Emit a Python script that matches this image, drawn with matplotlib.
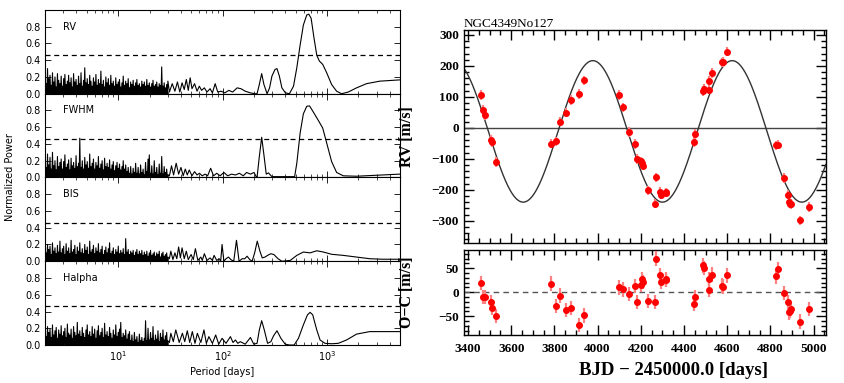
import matplotlib
matplotlib.use("Agg")
import matplotlib.pyplot as plt
import numpy as np
from matplotlib.ticker import MultipleLocator, NullFormatter, LogLocator


# ---------------------------------------------------------------- periodograms
# short periods (2..30 d) are a dense forest of spikes: heights listed in order
FOREST_PERIOD_RANGE = (2.0, 30.0)
FOREST_FLOOR = 0.0
FAP_LEVEL = 0.46

rv_forest = [
    0.35, 0.12, 0.30, 0.18, 0.22, 0.10, 0.25, 0.14, 0.20, 0.08,
    0.24, 0.16, 0.12, 0.21, 0.09, 0.18, 0.23, 0.11, 0.15, 0.22,
    0.13, 0.19, 0.08, 0.24, 0.14, 0.17, 0.10, 0.21, 0.12, 0.25,
    0.09, 0.16, 0.31, 0.13, 0.18, 0.11, 0.22, 0.15, 0.09, 0.19,
    0.14, 0.23, 0.10, 0.17, 0.12, 0.27, 0.11, 0.16, 0.08, 0.20,
    0.13, 0.18, 0.10, 0.22, 0.12, 0.15, 0.09, 0.19, 0.11, 0.14,
    0.17, 0.08, 0.13, 0.21, 0.10, 0.15, 0.12, 0.18, 0.07, 0.14,
    0.11, 0.16, 0.09, 0.13, 0.17, 0.10, 0.12, 0.08, 0.15, 0.11,
    0.14, 0.09, 0.17, 0.10, 0.13, 0.08, 0.12, 0.16, 0.09, 0.11,
    0.14, 0.08, 0.12, 0.10, 0.32, 0.09, 0.13, 0.07, 0.11, 0.15,
]
rv_period = [31, 33, 35, 37, 39, 41, 43, 45, 47, 49, 51, 54, 57, 60, 63, 67, 71, 76, 80, 85,
             90, 97, 105, 115, 125, 138, 150, 165, 185, 205,
             214, 225, 237, 249, 267, 282, 297, 318, 332, 350, 370, 400, 437,
             478, 514, 553, 594, 640, 670, 705, 752, 798, 845, 910, 993, 1107, 1236,
             1380, 1596, 1918, 2388, 3200, 4955]
rv_power = [0.02, 0.12, 0.03, 0.14, 0.02, 0.13, 0.05, 0.17, 0.04, 0.19, 0.06, 0.12, 0.03, 0.09,
            0.04, 0.07, 0.02, 0.06, 0.01, 0.12, 0.02, 0.03, 0.01, 0.04, 0.02, 0.07, 0.06, 0.03,
            0.01, 0.0,
            0.0, 0.11, 0.24, 0.11, 0.0, 0.07, 0.21, 0.29, 0.30, 0.21, 0.07, 0.01, 0.0,
            0.09, 0.31, 0.58, 0.82, 0.94, 0.95, 0.90, 0.66, 0.46, 0.39, 0.35, 0.25, 0.11, 0.03,
            0.0, 0.02, 0.07, 0.12, 0.15, 0.165]

fwhm_forest = [
    0.36, 0.12, 0.28, 0.15, 0.24, 0.10, 0.30, 0.14, 0.20, 0.09,
    0.25, 0.13, 0.18, 0.22, 0.10, 0.19, 0.27, 0.12, 0.16, 0.21,
    0.09, 0.23, 0.14, 0.18, 0.11, 0.26, 0.13, 0.17, 0.47, 0.12,
    0.20, 0.10, 0.24, 0.15, 0.19, 0.11, 0.28, 0.13, 0.17, 0.22,
    0.10, 0.18, 0.14, 0.25, 0.11, 0.16, 0.20, 0.09, 0.23, 0.13,
    0.17, 0.12, 0.21, 0.10, 0.15, 0.19, 0.08, 0.14, 0.18, 0.11,
    0.16, 0.09, 0.13, 0.20, 0.10, 0.15, 0.07, 0.12, 0.05, 0.13,
    0.04, 0.11, 0.06, 0.17, 0.05, 0.12, 0.04, 0.15, 0.06, 0.10,
    0.03, 0.18, 0.07, 0.22, 0.27, 0.05, 0.14, 0.04, 0.20, 0.06,
    0.12, 0.03, 0.16, 0.05, 0.25, 0.04, 0.13, 0.06, 0.10, 0.03,
]
fwhm_period = [31, 32.5, 34, 36, 38, 40, 42, 44, 46, 48, 51, 54, 57, 60, 64, 68, 72, 77, 82, 88,
               95, 103, 112, 122, 133, 145, 158, 170, 185, 200, 210,
               214, 225, 237, 249, 262, 275, 297, 332, 400, 490,
               514, 553, 594, 640, 680, 741, 827, 910, 993, 1107, 1236, 1430, 1918, 3438, 4955]
fwhm_power = [0.02, 0.14, 0.03, 0.17, 0.04, 0.12, 0.02, 0.10, 0.03, 0.09, 0.02, 0.07, 0.03,
              0.05, 0.02, 0.04, 0.02, 0.11, 0.02, 0.05, 0.02, 0.06, 0.02, 0.04, 0.03, 0.05,
              0.02, 0.06, 0.04, 0.06, 0.01,
              0.0, 0.25, 0.48, 0.27, 0.04, 0.055, 0.01, 0.01, 0.01, 0.01,
              0.17, 0.53, 0.76, 0.85, 0.855, 0.78, 0.68, 0.59, 0.41, 0.19, 0.06, 0.02, 0.015,
              0.03, 0.04]

bis_forest = [
    0.27, 0.10, 0.20, 0.14, 0.18, 0.08, 0.22, 0.12, 0.16, 0.09,
    0.19, 0.11, 0.24, 0.10, 0.15, 0.18, 0.08, 0.21, 0.12, 0.16,
    0.09, 0.25, 0.11, 0.14, 0.19, 0.08, 0.17, 0.12, 0.22, 0.10,
    0.15, 0.09, 0.20, 0.13, 0.17, 0.08, 0.24, 0.11, 0.14, 0.19,
    0.09, 0.16, 0.12, 0.21, 0.10, 0.14, 0.18, 0.08, 0.13, 0.17,
    0.10, 0.15, 0.22, 0.09, 0.12, 0.16, 0.08, 0.14, 0.11, 0.18,
    0.09, 0.13, 0.10, 0.15, 0.08, 0.27, 0.11, 0.14, 0.08, 0.12,
    0.10, 0.13, 0.07, 0.11, 0.14, 0.08, 0.12, 0.09, 0.13, 0.07,
    0.11, 0.08, 0.12, 0.06, 0.10, 0.13, 0.07, 0.09, 0.11, 0.06,
    0.10, 0.08, 0.12, 0.05, 0.09, 0.11, 0.06, 0.08, 0.10, 0.05,
]
bis_period = [31, 32, 33.5, 35, 36.5, 38, 39.5, 41, 43, 45, 47, 50, 52.5, 55, 58, 62, 64, 67,
              71, 76, 80, 83, 88, 93, 96, 99, 103, 108, 114, 120, 128, 136, 144, 154, 163,
              172, 182, 192, 203, 215, 228, 240, 255, 270, 290, 310, 340, 370, 445,
              514, 594, 640, 689, 798, 923, 1107, 1432, 1918, 2568, 3438, 4955]
bis_power = [0.03, 0.12, 0.02, 0.10, 0.03, 0.17, 0.04, 0.16, 0.03, 0.12, 0.02, 0.08, 0.02,
             0.15, 0.01, 0.05, 0.01, 0.09, 0.01, 0.04, 0.01, 0.07, 0.01, 0.03, 0.0, 0.20,
             0.0, 0.03, 0.05, 0.02, 0.0, 0.25, 0.0, 0.03, 0.03, 0.06, 0.02, 0.0, 0.10, 0.24,
             0.12, 0.04, 0.05, 0.07, 0.09, 0.08, 0.03, 0.0, 0.01,
             0.07, 0.11, 0.105, 0.10, 0.125, 0.11, 0.083, 0.07, 0.05, 0.03, 0.024, 0.024]

halpha_forest = [
    0.40, 0.10, 0.22, 0.15, 0.19, 0.09, 0.24, 0.12, 0.17, 0.21,
    0.08, 0.18, 0.13, 0.23, 0.11, 0.16, 0.20, 0.09, 0.25, 0.14,
    0.12, 0.19, 0.08, 0.22, 0.15, 0.11, 0.27, 0.13, 0.17, 0.10,
    0.21, 0.14, 0.09, 0.18, 0.24, 0.12, 0.16, 0.10, 0.22, 0.13,
    0.19, 0.08, 0.17, 0.23, 0.11, 0.15, 0.20, 0.09, 0.26, 0.12,
    0.16, 0.10, 0.21, 0.14, 0.08, 0.18, 0.12, 0.24, 0.10, 0.15,
    0.19, 0.27, 0.09, 0.14, 0.11, 0.18, 0.07, 0.13, 0.16, 0.05,
    0.12, 0.04, 0.15, 0.06, 0.10, 0.03, 0.13, 0.05, 0.09, 0.04,
    0.08, 0.29, 0.05, 0.20, 0.06, 0.15, 0.08, 0.22, 0.05, 0.12,
    0.07, 0.17, 0.04, 0.14, 0.09, 0.18, 0.06, 0.11, 0.15, 0.05,
]
halpha_period = [31, 32, 33.8, 35.7, 38.5, 41.3, 43.5, 46, 48.5, 51.4, 54.5, 57.4, 62, 66.4,
                 70, 74, 80, 86, 92, 99, 108, 119, 126, 133, 140, 148, 165, 185, 199, 214,
                 225, 237, 251, 270, 290, 308, 332, 362, 398, 437, 485,
                 533, 594, 650, 689, 730, 798, 858, 957, 1107, 1282, 1539, 1918, 2568, 3438,
                 4955]
halpha_power = [0.03, 0.14, 0.04, 0.18, 0.03, 0.14, 0.04, 0.17, 0.03, 0.16, 0.02, 0.14, 0.03,
                0.18, 0.02, 0.10, 0.02, 0.12, 0.01, 0.08, 0.02, 0.10, 0.03, 0.06, 0.02, 0.04,
                0.01, 0.09, 0.01, 0.02,
                0.18, 0.29, 0.18, 0.02, 0.04, 0.11, 0.17, 0.08, 0.01, 0.0, 0.0,
                0.08, 0.24, 0.36, 0.39, 0.36, 0.18, 0.06, 0.02, 0.015, 0.02, 0.06, 0.13, 0.16,
                0.16, 0.16]

panel_names = ["RV", "FWHM", "BIS", "Halpha"]

# ---------------------------------------------------------------- RV time series
bjd = [3459, 3470, 3479, 3507, 3509, 3528, 3782, 3807, 3827, 3853, 3875, 3912, 3938,
       4099, 4117, 4147, 4173, 4181, 4202, 4206, 4208, 4233, 4267, 4272, 4291, 4295,
       4315, 4318, 4447, 4451, 4488, 4493, 4515, 4518, 4529, 4577, 4580, 4601, 4827,
       4835, 4863, 4883, 4885, 4892, 4897, 4935, 4977]
rv = [106, 58, 41, -39, -47, -110, -51, -44, 20, 49, 90, 109, 153,
      106, 66, -13, -52, -101, -108, -112, -122, -202, -245, -160, -206, -216,
      -209, -208, -46, -20, 119, 125, 123, 152, 177, 212, 213, 246, -57,
      -54, -162, -216, -240, -245, -246, -299, -256]
o_minus_c = [19, -10, -10, -21, -32, -49, 18, -28, -7, -37, -33, -68, -48,
             10, 6, -3, 13, -20, 15, 27, 22, -18, -20, 70, 35, 22,
             27, 26, -25, -10, 56, 51, 5, 28, 37, 14, 12, 35, 33,
             49, -1, -20, -42, -39, -35, -61, -35]
RV_ERR = 15

# fitted orbit: period, semi-amplitude, time of maximum, offset
ORBIT_P = 645.0
ORBIT_K = 228.5
ORBIT_TMAX = 3978.0
ORBIT_V0 = -11.5

SERIF = "Liberation Serif"
TICK_FONT = dict(family=SERIF, weight="bold", size=9.5)


def periodogram_curve(forest, period, power):
    peaks = np.geomspace(*FOREST_PERIOD_RANGE, len(forest))
    troughs = np.sqrt(peaks[:-1] * peaks[1:])
    x = np.empty(2 * len(peaks) - 1)
    y = np.empty_like(x)
    x[0::2], x[1::2] = peaks, troughs
    y[0::2], y[1::2] = forest, FOREST_FLOOR
    return np.concatenate([x, period]), np.concatenate([y, power])


def draw_periodograms(fig):
    data = [(rv_forest, rv_period, rv_power),
            (fwhm_forest, fwhm_period, fwhm_power),
            (bis_forest, bis_period, bis_power),
            (halpha_forest, halpha_period, halpha_power)]
    left, width = 0.0533, 0.4201
    bottom, height = 0.0992, 0.2187
    axes = []
    for k, (name, (forest, period, power)) in enumerate(zip(panel_names, data)):
        ax = fig.add_axes([left, bottom + (3 - k) * height, width, height])
        x, y = periodogram_curve(forest, period, power)
        ax.plot(x, y, color="black", lw=0.8)
        ax.axhline(FAP_LEVEL, color="black", lw=0.9, ls=(0, (4, 3)))
        ax.set_xscale("log")
        ax.set_xlim(2, 5000)
        ax.set_ylim(0, 1.0)
        ax.set_yticks([0.0, 0.2, 0.4, 0.6, 0.8])
        ax.yaxis.set_major_formatter(plt.FormatStrFormatter("%.1f"))
        ax.xaxis.set_major_locator(LogLocator(base=10, numticks=10))
        ax.xaxis.set_minor_locator(LogLocator(base=10, subs=np.arange(2, 10), numticks=10))
        ax.tick_params(which="both", direction="in", top=True, right=True,
                       labelsize=7, colors="black", pad=3)
        ax.tick_params(which="major", length=4, width=0.6)
        ax.tick_params(which="minor", length=2, width=0.5)
        for s in ax.spines.values():
            s.set_linewidth(0.8)
        ax.text(0.05, 0.8, name, transform=ax.transAxes, fontsize=7, va="center")
        if k < 3:
            ax.xaxis.set_major_formatter(NullFormatter())
        axes.append(ax)
    axes[-1].set_xlabel("Period [days]", fontsize=7, labelpad=3)
    fig.text(0.012, 0.5366, "Normalized Power", rotation=90, fontsize=7,
             ha="center", va="center")
    return axes


def style_root(ax, xmajor, xminor, ymajor, yminor, xlabels=True):
    ax.xaxis.set_major_locator(MultipleLocator(xmajor))
    ax.xaxis.set_minor_locator(MultipleLocator(xminor))
    ax.yaxis.set_major_locator(MultipleLocator(ymajor))
    ax.yaxis.set_minor_locator(MultipleLocator(yminor))
    ax.tick_params(which="both", direction="in", top=True, right=True, width=1.0)
    ax.tick_params(which="major", length=7)
    ax.tick_params(which="minor", length=3.5)
    ax.tick_params(axis="x", pad=6)
    for s in ax.spines.values():
        s.set_linewidth(1.0)
    # fixed bold serif labels at the locator's own tick positions
    lo, hi = ax.get_ylim()
    yt = [v for v in ax.get_yticks() if lo <= v <= hi]
    ax.set_yticks(yt)
    ax.set_yticklabels([f"{v:.0f}".replace("-", "\u2212") for v in yt], **TICK_FONT)
    lo, hi = ax.get_xlim()
    xt = [v for v in ax.get_xticks() if lo <= v <= hi]
    ax.set_xticks(xt)
    ax.set_xticklabels([f"{v:.0f}" for v in xt] if xlabels else [], **TICK_FONT)
    ax.xaxis.set_minor_locator(MultipleLocator(xminor))
    ax.yaxis.set_minor_locator(MultipleLocator(yminor))


def draw_orbit(fig):
    xlim = (3381, 5057)
    ax = fig.add_axes([0.549, 0.3655, 0.4284, 0.5562])
    res = fig.add_axes([0.549, 0.1253, 0.4284, 0.2219])

    t = np.linspace(*xlim, 800)
    model = ORBIT_V0 + ORBIT_K * np.cos(2 * np.pi * (t - ORBIT_TMAX) / ORBIT_P)
    ax.axhline(0, color="#444444", lw=1.0)
    ax.plot(t, model, color="#333333", lw=1.0)
    ax.errorbar(bjd, rv, yerr=RV_ERR, fmt="o", color="#ff0000", ms=4,
                ecolor="#ff8080", elinewidth=1.6, capsize=0, zorder=3)
    ax.set_xlim(*xlim)
    ax.set_ylim(-372, 316)
    style_root(ax, 200, 50, 100, 20, xlabels=False)
    ax.set_ylabel("RV [m/s]", fontfamily=SERIF, fontweight="bold", fontsize=11.5)
    ax.yaxis.set_label_coords(-0.135, 0.5)
    ax.set_title("NGC4349No127", loc="left", fontfamily=SERIF, fontsize=9.5, pad=2)

    res.axhline(0, color="#555555", lw=1.0, ls=(0, (4, 3)))
    res.errorbar(bjd, o_minus_c, yerr=RV_ERR, fmt="o", color="#ff0000", ms=4,
                 ecolor="#ff8080", elinewidth=1.6, capsize=0, zorder=3)
    res.set_xlim(*xlim)
    res.set_ylim(-89, 88)
    style_root(res, 200, 50, 50, 10)
    res.set_ylabel("O\u2212C [m/s]", fontfamily=SERIF, fontweight="bold", fontsize=11.5)
    res.yaxis.set_label_coords(-0.135, 0.5)
    res.set_xlabel("BJD \u2212 2450000.0 [days]", fontfamily=SERIF, fontweight="bold",
                   fontsize=13.5, labelpad=4)
    res.xaxis.set_label_coords(0.58, -0.32)
    return ax, res


def main() -> None:
    fig = plt.figure(figsize=(8.45, 3.83), dpi=100)
    draw_periodograms(fig)
    draw_orbit(fig)
    fig.savefig("out.png", dpi=100)


if __name__ == "__main__":
    main()
